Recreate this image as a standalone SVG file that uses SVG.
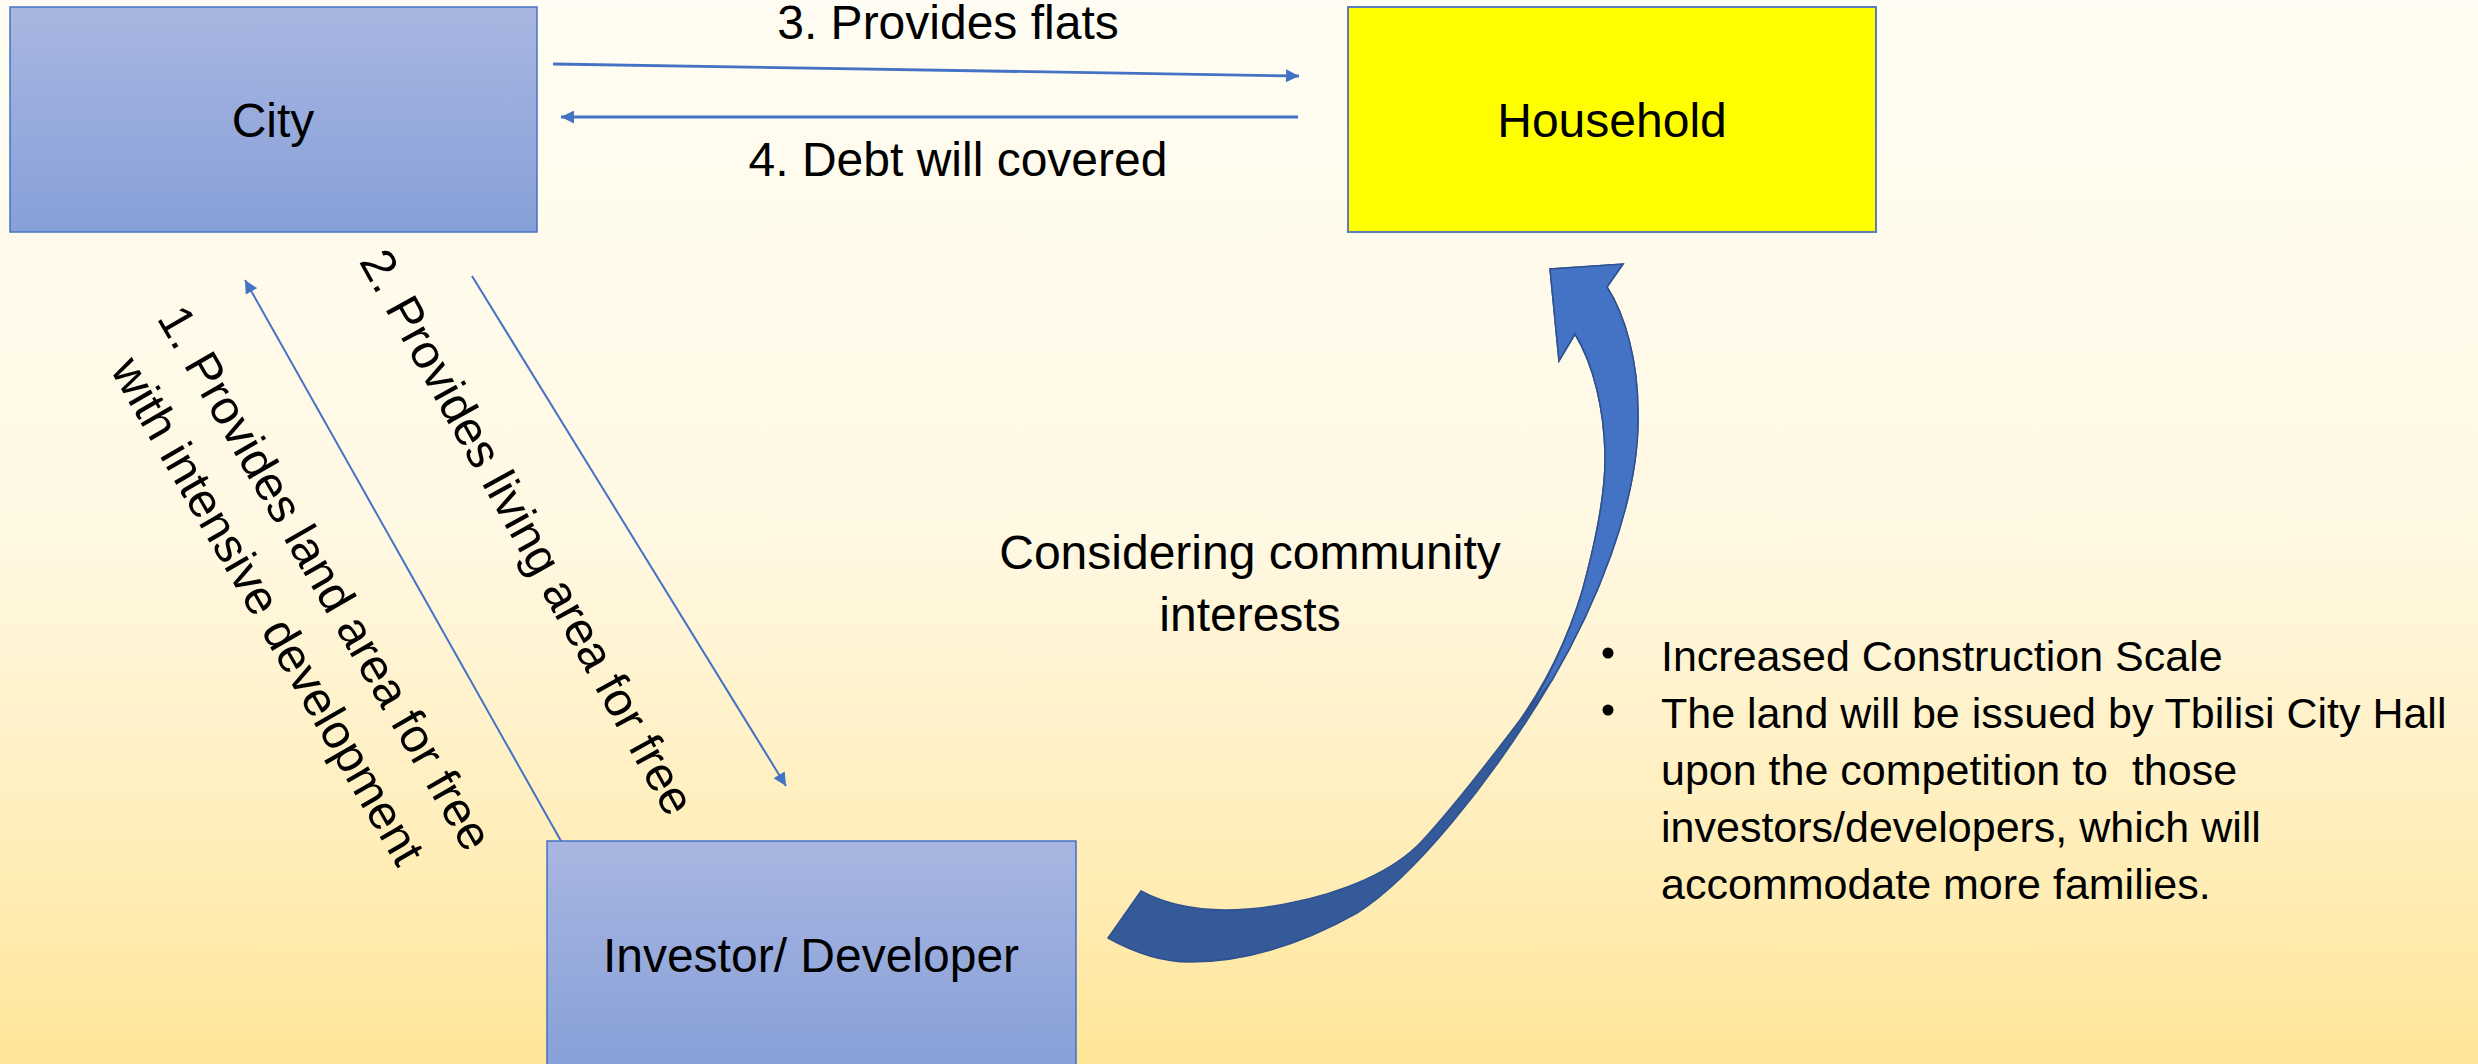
<svg xmlns="http://www.w3.org/2000/svg" width="2478" height="1064" viewBox="0 0 2478 1064">
  <style>
    .lbl { font-family: "Liberation Sans", Arial, sans-serif; font-size: 48px; fill: #000000; }
    .bul { font-family: "Liberation Sans", Arial, sans-serif; font-size: 43px; fill: #000000; }
    .box { stroke: #4472C4; stroke-width: 1.5; }
    .conn { stroke: #4472C4; fill: none; }
  </style>
  <defs>
    <linearGradient id="bg" x1="0" y1="0" x2="0" y2="1">
      <stop offset="0" stop-color="#FFFDF3"/>
      <stop offset="0.5" stop-color="#FFF8E3"/>
      <stop offset="0.85" stop-color="#FFECB2"/>
      <stop offset="1" stop-color="#FFE597"/>
    </linearGradient>
    <linearGradient id="boxfill" x1="0" y1="0" x2="0" y2="1">
      <stop offset="0" stop-color="#A9B6E1"/>
      <stop offset="1" stop-color="#87A0D8"/>
    </linearGradient>
    <marker id="ah" viewBox="0 0 10 10" refX="10" refY="5" markerUnits="userSpaceOnUse" markerWidth="15" markerHeight="13" orient="auto">
      <path d="M0,0 L10,5 L0,10 z" fill="#4472C4"/>
    </marker>
  </defs>

  <rect x="0" y="0" width="2478" height="1064" fill="url(#bg)"/>

  <g id="connectors">
    <line class="conn" x1="553" y1="64" x2="1299" y2="76" stroke-width="2.8" marker-end="url(#ah)"/>
    <line class="conn" x1="1298" y1="117" x2="561" y2="117" stroke-width="2.8" marker-end="url(#ah)"/>
    <line class="conn" x1="561" y1="841" x2="245" y2="280" stroke-width="2" marker-end="url(#ah)"/>
    <line class="conn" x1="472" y1="276" x2="786" y2="786" stroke-width="2" marker-end="url(#ah)"/>
    <text class="lbl" x="948" y="39" text-anchor="middle">3. Provides flats</text>
    <text class="lbl" x="958" y="176" text-anchor="middle">4. Debt will covered</text>
    <text class="lbl" transform="translate(513,540) rotate(61)" text-anchor="middle" font-size="52">2. Provides living area for free</text>
    <text class="lbl" transform="translate(311,586) rotate(60)" text-anchor="middle"><tspan x="0" y="0">1. Provides land area for free</tspan><tspan x="0" y="66">with intensive development</tspan></text>
    <g id="curved-arrow">
      <path d="M1108,938 C1135,953 1162,962 1190,962 C1245,962 1300,945 1357,913 C1410,880 1490,785 1552,680 C1592,612 1640,505 1638,413 C1638,360 1625,315 1607,287 L1623,264 L1550,269 L1559,361 L1575,334 C1594,365 1604,410 1605,453 C1606,490 1598,530 1587,573 C1577,615 1555,670 1520,720 C1492,757 1455,805 1423,840 C1393,873 1340,893 1290,903 C1230,915 1180,912 1141,891 Z" fill="#345A99" stroke="#2F528F" stroke-width="1.5" stroke-linejoin="miter"/>
      <path d="M1550,269 L1623,264 L1607,287 C1625,315 1638,360 1638,413 C1640,505 1592,612 1552,680 L1522,721 C1555,670 1577,615 1587,573 C1598,530 1606,490 1605,453 C1604,410 1594,365 1575,334 L1559,361 Z" fill="#4472C4" stroke="#2F528F" stroke-width="1.5" stroke-linejoin="miter"/>
    </g>
    <text class="lbl" x="1250" y="569" text-anchor="middle" font-size="49">Considering community</text>
    <text class="lbl" x="1250" y="631" text-anchor="middle" font-size="49">interests</text>
  </g>

  <g id="node-city">
    <rect class="box" x="10" y="7" width="527" height="225" fill="url(#boxfill)"/>
    <text class="lbl" x="273" y="137" text-anchor="middle">City</text>
  </g>

  <g id="node-household">
    <rect x="1348" y="7" width="528" height="225" fill="#FFFF00" stroke="#5B7DB8" stroke-width="2"/>
    <text class="lbl" x="1612" y="137" text-anchor="middle">Household</text>
  </g>

  <g id="node-investor">
    <rect class="box" x="547" y="841" width="529" height="226" fill="url(#boxfill)"/>
    <text class="lbl" x="811" y="972" text-anchor="middle">Investor/ Developer</text>
  </g>

  <g id="notes">
    <circle cx="1608" cy="653" r="5.5" fill="#000"/>
    <circle cx="1608" cy="710" r="5.5" fill="#000"/>
    <text class="bul" x="1661" y="671">Increased Construction Scale</text>
    <text class="bul" x="1661" y="728">The land will be issued by Tbilisi City Hall</text>
    <text class="bul" x="1661" y="785" xml:space="preserve">upon the competition to  those</text>
    <text class="bul" x="1661" y="842">investors/developers, which will</text>
    <text class="bul" x="1661" y="899">accommodate more families.</text>
  </g>
</svg>
